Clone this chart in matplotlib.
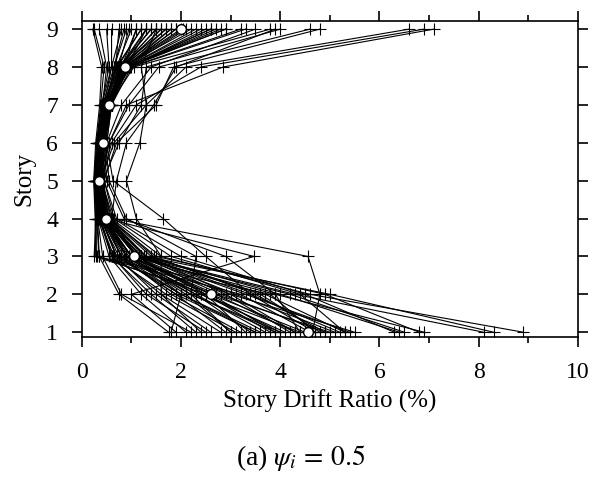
import numpy as np
import matplotlib
matplotlib.use("Agg")
import matplotlib.pyplot as plt
from matplotlib.ticker import MultipleLocator

plt.rcParams['font.family'] = ['Liberation Serif', 'DejaVu Serif']
plt.rcParams['mathtext.fontset'] = 'stix'

stories = [1, 2, 3, 4, 5, 6, 7, 8, 9]

# peak story drift ratio (%) per record, stories 1..9
records = [
    [8.9, 4.6, 1.6, 0.60, 0.40, 0.35, 0.45, 0.70, 1.2],
    [8.3, 5.0, 1.3, 0.50, 0.35, 0.40, 0.50, 0.80, 1.6],
    [8.1, 4.3, 1.2, 0.45, 0.30, 0.38, 0.55, 0.90, 2.1],
    [6.8, 4.9, 1.5, 0.55, 0.40, 0.45, 0.60, 0.75, 1.4],
    [6.5, 4.2, 1.1, 0.50, 0.35, 0.40, 0.50, 0.65, 0.9],
    [6.3, 4.5, 2.0, 0.70, 0.45, 0.40, 0.45, 0.60, 0.8],
    [6.9, 3.9, 1.0, 0.40, 0.30, 0.35, 0.50, 0.85, 1.9],
    [4.65, 4.8, 4.56, 0.63, 0.40, 0.45, 0.55, 0.80, 1.3],
    [1.9, 1.0, 3.47, 0.50, 0.40, 0.40, 0.55, 0.80, 1.5],
    [5.4, 3.3, 1.2, 0.45, 0.32, 0.40, 0.55, 0.90, 2.4],
    [5.5, 3.0, 0.9, 0.40, 0.30, 0.35, 0.45, 0.75, 1.7],
    [5.3, 4.4, 1.8, 0.65, 0.45, 0.50, 0.60, 0.85, 1.1],
    [4.9, 2.8, 1.1, 0.50, 0.35, 0.40, 0.55, 0.95, 2.6],
    [4.8, 3.6, 1.4, 0.55, 0.38, 0.42, 0.55, 0.80, 1.8],
    [4.5, 2.6, 1.0, 0.45, 0.33, 0.40, 0.50, 0.85, 2.0],
    [4.4, 2.4, 0.9, 0.42, 0.30, 0.36, 0.50, 0.90, 2.9],
    [4.2, 2.9, 1.2, 0.50, 0.35, 0.42, 0.55, 0.80, 1.5],
    [4.0, 2.2, 0.8, 0.40, 0.28, 0.35, 0.48, 0.82, 2.2],
    [3.8, 2.5, 1.0, 0.48, 0.36, 0.45, 0.60, 1.00, 3.3],
    [3.6, 2.0, 0.7, 0.38, 0.30, 0.38, 0.55, 1.05, 3.8],
    [3.4, 2.3, 1.0, 0.45, 0.34, 0.40, 0.52, 0.78, 1.4],
    [3.2, 1.8, 0.8, 0.40, 0.30, 0.36, 0.50, 0.95, 2.7],
    [3.0, 2.1, 0.9, 0.45, 0.35, 0.42, 0.58, 0.88, 1.9],
    [2.8, 1.6, 0.65, 0.35, 0.27, 0.33, 0.45, 0.70, 1.0],
    [2.6, 1.5, 0.7, 0.40, 0.30, 0.40, 0.55, 0.90, 2.3],
    [2.3, 1.4, 0.6, 0.35, 0.28, 0.35, 0.50, 0.85, 1.7],
    [1.75, 0.75, 0.35, 0.30, 0.25, 0.30, 0.40, 0.60, 0.6],
    [2.1, 1.2, 0.55, 0.33, 0.26, 0.32, 0.42, 0.65, 0.85],
    [3.1, 1.7, 0.6, 0.38, 0.35, 0.55, 0.90, 2.85, 7.1],
    [3.5, 2.0, 0.8, 0.45, 0.40, 0.60, 1.10, 2.40, 6.9],
    [2.9, 1.9, 0.7, 0.40, 0.38, 0.65, 1.30, 2.10, 6.6],
    [4.1, 2.4, 0.9, 0.50, 0.45, 0.70, 1.50, 1.85, 4.8],
    [3.9, 2.6, 1.1, 0.48, 0.40, 0.55, 0.95, 1.55, 4.6],
    [4.3, 2.7, 1.0, 0.45, 0.42, 0.75, 1.20, 1.30, 4.0],
    [3.7, 2.3, 0.85, 0.42, 0.38, 0.50, 0.80, 1.40, 3.5],
    [4.6, 3.2, 0.30, 0.30, 0.28, 0.32, 0.40, 0.55, 0.5],
    [5.0, 2.7, 0.25, 0.28, 0.25, 0.30, 0.38, 0.45, 0.25],
    [3.3, 2.5, 0.35, 0.32, 0.26, 0.34, 0.42, 0.50, 0.35],
    [4.7, 3.8, 0.28, 0.27, 0.24, 0.28, 0.36, 0.40, 0.22],
    [4.3, 3.0, 1.3, 0.55, 0.38, 0.45, 0.60, 0.95, 2.5],
    [3.9, 2.2, 0.95, 0.43, 0.31, 0.37, 0.47, 0.72, 1.2],
    [4.7, 3.4, 1.25, 0.52, 0.36, 0.41, 0.53, 0.83, 1.6],
    [5.1, 3.1, 1.15, 0.47, 0.33, 0.39, 0.52, 0.92, 2.8],
    [3.5, 1.9, 0.75, 0.37, 0.29, 0.37, 0.52, 0.98, 3.2],
    [2.5, 1.3, 0.62, 0.36, 0.29, 0.36, 0.48, 0.76, 1.3],
    [4.9, 3.5, 1.45, 0.58, 0.40, 0.44, 0.55, 0.74, 0.95],
    [3.0, 2.2, 2.3, 0.90, 0.55, 0.48, 0.58, 0.88, 1.8],
    [5.2, 3.4, 2.5, 1.64, 0.63, 0.50, 0.60, 0.90, 1.3],
    [4.4, 3.9, 2.9, 0.85, 0.50, 0.45, 0.55, 0.80, 1.1],
    [2.4, 1.6, 1.6, 1.10, 0.90, 1.17, 1.30, 1.20, 1.5],
    [4.0, 2.5, 1.1, 0.60, 0.70, 0.90, 1.45, 1.90, 3.9],
    [6.4, 4.0, 1.3, 0.50, 0.36, 0.42, 0.55, 0.95, 2.9],
    [5.3, 3.7, 1.1, 0.46, 0.32, 0.38, 0.52, 0.86, 2.05],
    [1.8, 2.0, 1.0, 0.44, 0.32, 0.40, 0.56, 0.92, 2.6],
    [2.2, 0.8, 0.42, 0.32, 0.27, 0.33, 0.45, 0.68, 0.75],
]

# median drift per story
median = [4.55, 2.6, 1.05, 0.48, 0.35, 0.42, 0.55, 0.87, 2.0]

fig = plt.figure(figsize=(5.97, 4.83), dpi=100)
ax = fig.add_axes([0.137, 0.302, 0.831, 0.655])

for r in records:
    ax.plot(r, stories, color='black', linewidth=0.8, marker='+',
            markersize=8, markeredgewidth=0.8)

ax.plot(median, stories, linestyle='none', marker='o', markersize=7,
        markerfacecolor='white', markeredgecolor='black', markeredgewidth=1.0,
        zorder=5)

ax.set_xlim(0, 10)
ax.set_ylim(0.87, 9.22)
ax.xaxis.set_major_locator(MultipleLocator(2))
ax.xaxis.set_minor_locator(MultipleLocator(1))
ax.yaxis.set_major_locator(MultipleLocator(1))
ax.tick_params(which='both', direction='out', top=True, right=True, width=1.2,
               labelsize=17)
ax.tick_params(which='major', length=7)
ax.tick_params(which='minor', length=4.3)
ax.tick_params(axis='x', pad=11)
ax.tick_params(axis='y', pad=10)
for s in ax.spines.values():
    s.set_linewidth(1.2)

ax.set_xlabel("Story Drift Ratio (%)", fontsize=18, labelpad=5)
ax.set_ylabel("Story", fontsize=18, labelpad=8)

fig.text(0.503, 0.052, r"(a) $\psi_i\,=\,0.5$", ha='center', va='center', fontsize=20)

fig.savefig("out.png", dpi=100)
